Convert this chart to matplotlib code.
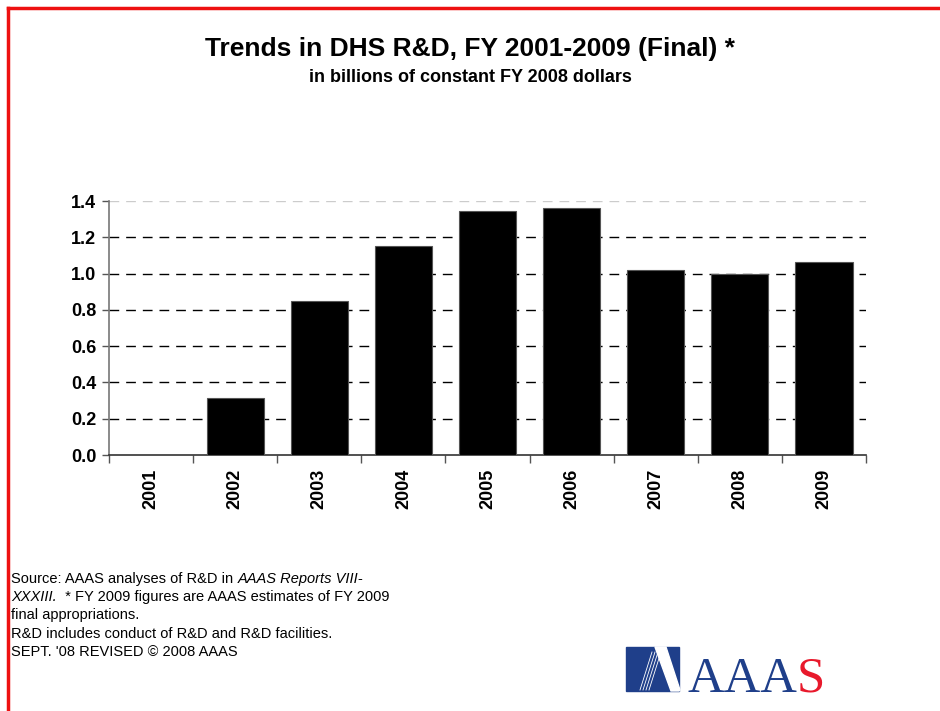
import numpy as np
import matplotlib.pyplot as plt
from matplotlib.patches import Polygon, Rectangle
from matplotlib.lines import Line2D
from matplotlib.transforms import offset_copy

# Данные (млрд долл., постоянные цены FY 2008)
years = ['2001', '2002', '2003', '2004', '2005', '2006', '2007', '2008', '2009']
values = [0.0, 0.314, 0.848, 1.150, 1.345, 1.362, 1.017, 0.995, 1.065]
yticks = [0.0, 0.2, 0.4, 0.6, 0.8, 1.0, 1.2, 1.4]

plt.rcParams['font.family'] = ['Liberation Sans', 'DejaVu Sans']

fig = plt.figure(figsize=(9.4, 7.11), dpi=100)
W, H = 940, 711

# красная рамка слева и сверху
fig.add_artist(Line2D([8 / W, 8 / W], [0, 1 - 8 / H], color='#ee1111', lw=2.5))
fig.add_artist(Line2D([8 / W, 1], [1 - 8 / H, 1 - 8 / H], color='#ee1111', lw=2.5))

ax = fig.add_axes([109 / W, 1 - 455 / H, (866 - 109) / W, (455 - 201) / H])
x = np.arange(len(years))
ax.bar(x, values, width=0.68, color='black', edgecolor='#555555', linewidth=0.8, zorder=3)

ax.set_xlim(-0.5, len(years) - 0.5)
ax.set_ylim(0, 1.4)
ax.set_yticks(yticks)
ax.set_yticklabels([f'{v:.1f}' for v in yticks], fontsize=13, fontweight='bold')
ax.set_xticks(x)
ax.set_xticklabels(years, rotation=90, fontsize=13, fontweight='bold')
ax.tick_params(axis='x', length=0, pad=10)
ax.tick_params(axis='y', length=5, width=1, color='#555555', pad=4)

# тики между категориями
ax.set_xticks(np.arange(-0.5, len(years), 1.0), minor=True)
ax.tick_params(axis='x', which='minor', length=6, width=1, color='#555555')

for v in yticks[1:-1]:
    ax.axhline(v, color='black', lw=1, ls=(0, (7, 5)), zorder=1)
ax.axhline(1.4, color='#cccccc', lw=1, ls=(0, (7, 5)), zorder=1)

for s in ['top', 'right']:
    ax.spines[s].set_visible(False)
ax.spines['left'].set_color('#777777')
ax.spines['bottom'].set_color('#333333')
ax.spines['left'].set_linewidth(1.2)
ax.spines['bottom'].set_linewidth(1.2)

fig.text(470 / W, 1 - 49 / H, 'Trends in DHS R&D, FY 2001-2009 (Final) *',
         ha='center', va='center', fontsize=19, fontweight='bold')
fig.text(470 / W, 1 - 77 / H, 'in billions of constant FY 2008 dollars',
         ha='center', va='center', fontsize=13, fontweight='bold')

# сноска: куски текста ставим друг за другом
renderer = fig.canvas.get_renderer()
def chain(parts, x0, y0, fs=10.5):
    t = None
    for txt, style in parts:
        if t is None:
            t = fig.text(x0 / W, 1 - y0 / H, txt, fontsize=fs, va='center', style=style)
        else:
            bb = t.get_window_extent(renderer)
            t = fig.text(bb.x1 / W, 1 - y0 / H, txt, fontsize=fs, va='center', style=style)
    return t

chain([('Source: AAAS analyses of R&D in ', 'normal'), ('AAAS Reports VIII-', 'italic')], 11, 579)
chain([('XXXIII.', 'italic'), ('  * FY 2009 figures are AAAS estimates of FY 2009', 'normal')], 11, 597)
chain([('final appropriations.', 'normal')], 11, 615)
chain([('R&D includes conduct of R&D and R&D facilities.', 'normal')], 11, 634)
chain([("SEPT. '08 REVISED \u00a9 2008 AAAS", 'normal')], 11, 652)

# логотип AAAS
blue = '#1f3f8a'
def px(xp, yp):
    return (xp / W, 1 - yp / H)
fig.add_artist(Rectangle(px(626, 691), 53 / W, 44 / H, color=blue, transform=fig.transFigure))
fig.add_artist(Polygon([px(655, 647), px(666, 647), px(680, 690), px(679, 691), px(671, 691)],
                       closed=True, color='white', transform=fig.transFigure))
for dx in [0, 3, 6, 9]:
    fig.add_artist(Line2D([(640 + dx) / W, (652 + dx) / W], [1 - 690 / H, 1 - 652 / H],
                          color='white', lw=0.6))
serif = ['Liberation Serif', 'DejaVu Serif']
t1 = fig.text(687 / W, 1 - 692 / H, 'AAA', fontsize=36.5, family=serif,
              color=blue, va='baseline')
bb = t1.get_window_extent(renderer)
fig.text(bb.x1 / W, 1 - 692 / H, 'S', fontsize=36.5, family=serif,
         color='#e8192c', va='baseline')

fig.savefig('out.png', dpi=100)
